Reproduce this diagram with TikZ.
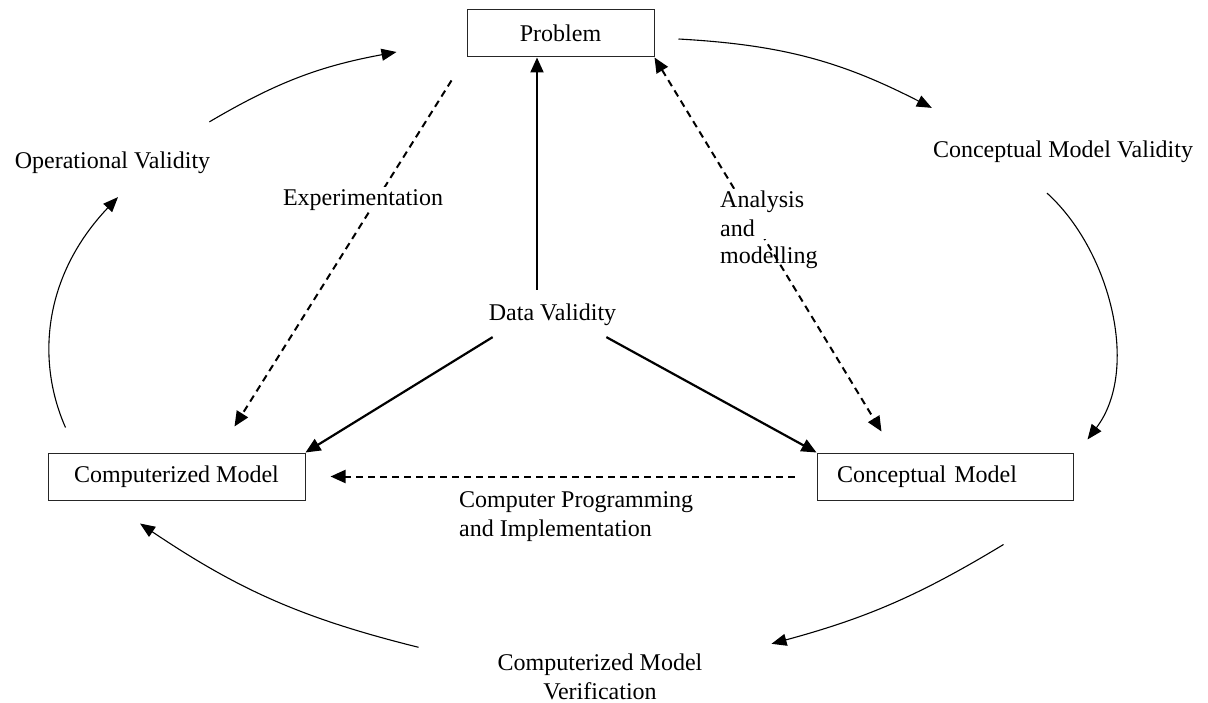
\documentclass[tikz,border=0pt]{standalone}
\usepackage{fontspec}
\setmainfont{Liberation Serif}
\usetikzlibrary{arrows.meta,calc}

\begin{document}
\begin{tikzpicture}[x=1pt,y=-1pt,
  every node/.style={font=\fontsize{24}{29}\selectfont, inner sep=0pt},
  box/.style={draw=black!85, line width=1pt, minimum height=47pt, inner sep=0pt},
  solidarrow/.style={line width=2.2pt, -{Triangle[length=15pt,width=13pt]}},
  dasharrow/.style={line width=2pt, dash pattern=on 7pt off 5pt, -{Triangle[length=15pt,width=13pt]}},
  cycarrow/.style={line width=1.1pt, -{Triangle[length=15pt,width=12pt]}},
  gap/.style={fill=white, inner sep=2pt},
]
\useasboundingbox (0,0) rectangle (1208,703);

% the three stages
\node[box, minimum width=187pt] (prob) at (560.5,33.5) {Problem};
\node[box, minimum width=257pt] (comp) at (176.5,476.5) {Computerized Model};
\node[box, text width=216pt, inner xsep=20pt, align=left] (conc) at (945,476.5) {Conceptual Model};

% validity labels
\node (opv) at (112.5,163) {Operational Validity};
\node (cmv) at (1063,152) {Conceptual Model Validity};
\node (dv) at (552.5,315) {Data Validity};
\node[align=center] (ver) at (600,677) {Computerized Model\\Verification};
\node[align=left, anchor=west] (cpi) at (459,517) {Computer Programming\\and Implementation};

% data validity links
\coordinate (dvtop) at ($(dv.north)+(-15.5,-14)$);
\draw[solidarrow] (dvtop) -- (dvtop |- prob.south);
\draw[solidarrow] ($(dv.south west)+(4,11)$) -- (comp.north east);
\draw[solidarrow] ($(dv.south east)+(-10,11)$) -- (conc.north west);

% modelling process (dashed)
\draw[dasharrow] ($(conc.west)+(-22,0)$) -- ($(comp.east)+(25,0)$);
\draw[dasharrow] ($(prob.south west)+(-15,23)$) -- ($(comp.north east)+(-71,-26)$);
\draw[dasharrow, {Triangle[length=15pt,width=13pt]}-{Triangle[length=15pt,width=13pt]}]
  (prob.south east) -- ($(conc.north west)+(65,-21)$);

% process labels laid over the dashed lines
\node[gap] (exper) at (363,200) {Experimentation};
\node[gap, align=left, anchor=north west] (anal) at (718,188.5) {Analysis\\and};
\node[anchor=base west] (modl) at (720,264) {modelling};

% outer validation cycle
\draw[cycarrow] ($(opv.north east)+(-1,-30)$) to[bend left=10] ($(prob.west)+(-70,18.5)$);
\draw[cycarrow] ($(prob.east)+(24,5.5)$) to[bend left=12] ($(cmv.north west)+(-1,-33)$);
\draw[cycarrow] ($(cmv.south)+(-16,30)$) .. controls +(63,57) and +(53,-70) .. ($(conc.north east)+(14,-13)$);
\draw[cycarrow] ($(conc.south east)+(-70,44)$) to[bend left=8] ($(ver.north east)+(69,-10)$);
\draw[cycarrow] ($(ver.north west)+(-79,-6.5)$) to[bend left=10] ($(comp.south)+(-36.5,23)$);
\draw[cycarrow] ($(comp.north west)+(18,-25)$) .. controls +(-30,-68) and +(-74,78) .. ($(opv.south)+(5.5,23)$);
\end{tikzpicture}
\end{document}
